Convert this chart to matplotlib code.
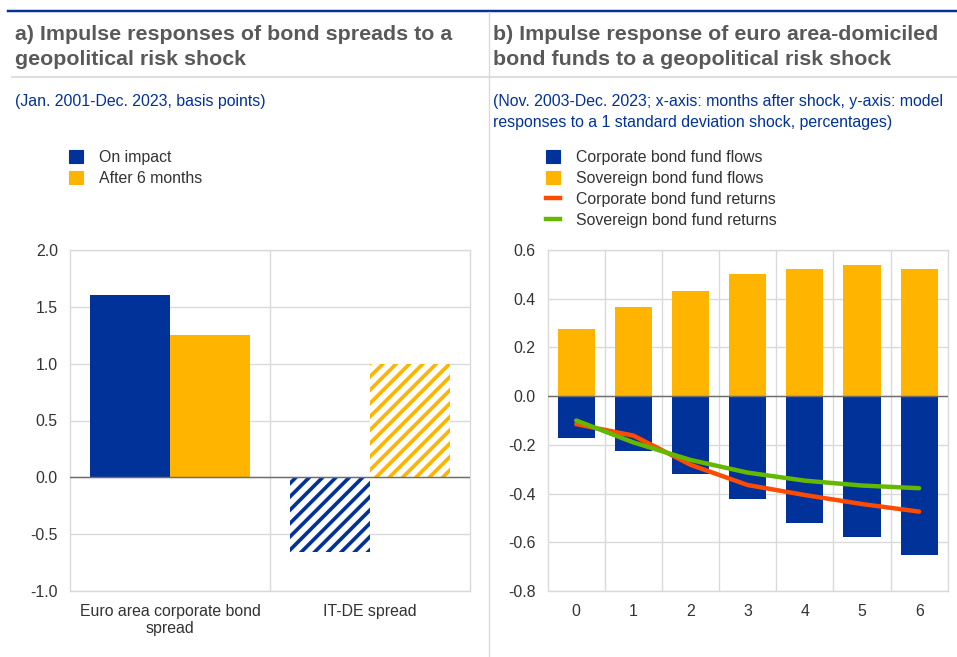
import matplotlib
matplotlib.use("Agg")
import matplotlib.pyplot as plt
from matplotlib.lines import Line2D
from matplotlib.patches import Patch
import numpy as np

# ---- data ----
spread_categories = ["Euro area corporate bond\nspread", "IT-DE spread"]
on_impact = [1.60, -0.66]
after_6_months = [1.25, 1.00]
spread_hatched = [False, True]
spread_yticks = [-1.0, -0.5, 0.0, 0.5, 1.0, 1.5, 2.0]

months = [0, 1, 2, 3, 4, 5, 6]
corp_flows = [-0.173, -0.224, -0.319, -0.423, -0.519, -0.577, -0.651]
sov_flows = [0.275, 0.367, 0.430, 0.500, 0.521, 0.537, 0.521]
corp_returns = [-0.115, -0.162, -0.282, -0.365, -0.406, -0.443, -0.474]
sov_returns = [-0.100, -0.190, -0.262, -0.314, -0.347, -0.367, -0.378]
fund_yticks = [-0.8, -0.6, -0.4, -0.2, 0.0, 0.2, 0.4, 0.6]

# ---- style ----
BLUE = "#003299"
ORANGE = "#FFB400"
RED = "#FF4B00"
GREEN = "#65B800"
GRID = "#d9d9d9"
TEXT = "#333333"
TITLE = "#595959"
FS = 14.3

W, H, DPI = 957, 657, 80
plt.rcParams["font.family"] = ["Liberation Sans", "DejaVu Sans"]
plt.rcParams["hatch.linewidth"] = 3.3

fig = plt.figure(figsize=(W / DPI, H / DPI), dpi=DPI)
fig.patch.set_facecolor("white")


def fx(px):
    return px / W


def fy(py):
    return 1 - py / H


def style_axes(ax, yticks, vlines):
    ax.set_ylim(yticks[0], yticks[-1])
    ax.set_yticks(yticks)
    ax.set_yticklabels([f"{t:.1f}" for t in yticks])
    for s in ax.spines.values():
        s.set_color(GRID)
        s.set_linewidth(1.2)
    ax.tick_params(length=0, labelsize=FS, colors=TEXT)
    ax.tick_params(axis="y", pad=11)
    ax.tick_params(axis="x", pad=11.5)
    for t in yticks:
        ax.axhline(t, color=GRID, lw=1.2, zorder=0)
    for v in vlines:
        ax.axvline(v, color=GRID, lw=1.2, zorder=0)
    ax.axhline(0, color="#6e6e6e", lw=1.3, zorder=4)


# ---- panel a ----
axa = fig.add_axes([fx(70), fy(591), fx(400), 341 / H])
xa = np.arange(len(spread_categories))
bw = 0.4
for i in range(len(xa)):
    if spread_hatched[i]:
        axa.bar(xa[i] - bw / 2, on_impact[i], bw, facecolor="white",
                edgecolor=BLUE, hatch="//", lw=0, zorder=2)
        axa.bar(xa[i] + bw / 2, after_6_months[i], bw, facecolor="white",
                edgecolor=ORANGE, hatch="//", lw=0, zorder=2)
    else:
        axa.bar(xa[i] - bw / 2, on_impact[i], bw, color=BLUE, zorder=2)
        axa.bar(xa[i] + bw / 2, after_6_months[i], bw, color=ORANGE, zorder=2)
axa.set_xlim(-0.5, len(xa) - 0.5)
axa.set_xticks(xa)
axa.set_xticklabels(spread_categories, linespacing=1.22)
style_axes(axa, spread_yticks, [0.5])

# ---- panel b ----
axb = fig.add_axes([fx(547.7), fy(591), fx(400), 341 / H])
xb = np.array(months)
bwb = 0.65
axb.bar(xb, sov_flows, bwb, color=ORANGE, zorder=2)
axb.bar(xb, corp_flows, bwb, color=BLUE, zorder=2)
axb.plot(xb, corp_returns, color=RED, lw=4, solid_capstyle="round",
         solid_joinstyle="round", zorder=5)
axb.plot(xb, sov_returns, color=GREEN, lw=4, solid_capstyle="round",
         solid_joinstyle="round", zorder=6)
axb.set_xlim(-0.5, len(xb) - 0.5)
axb.set_xticks(xb)
axb.set_xticklabels([str(m) for m in months])
style_axes(axb, fund_yticks, xb[:-1] + 0.5)

# ---- header rules and separators ----
fig.add_artist(Line2D([fx(8), 1], [fy(11), fy(11)], color=BLUE, lw=2.2))
fig.add_artist(Line2D([fx(12), fx(489)], [fy(77), fy(77)], color=GRID, lw=1.6))
fig.add_artist(Line2D([fx(490), 1], [fy(77), fy(77)], color=GRID, lw=1.6))
fig.add_artist(Line2D([fx(489), fx(489)], [fy(12), 0], color=GRID, lw=1.2))

# ---- titles ----
title_kw = dict(fontsize=19.2, fontweight="bold", color=TITLE, va="top",
                ha="left", linespacing=1.4)
fig.text(fx(15), fy(25), "a) Impulse responses of bond spreads to a\ngeopolitical risk shock",
         **title_kw)
fig.text(fx(493), fy(25), "b) Impulse response of euro area-domiciled\nbond funds to a geopolitical risk shock",
         **title_kw)
sub_kw = dict(fontsize=14.3, color=BLUE, va="top", ha="left", linespacing=1.48)
fig.text(fx(15), fy(94), "(Jan. 2001-Dec. 2023, basis points)", **sub_kw)
fig.text(fx(493), fy(94),
         "(Nov. 2003-Dec. 2023; x-axis: months after shock, y-axis: model\nresponses to a 1 standard deviation shock, percentages)",
         **sub_kw)

# ---- legends ----
leg_kw = dict(loc="upper left", frameon=False, fontsize=FS, borderpad=0,
              borderaxespad=0, handlelength=0.85, handleheight=0.85,
              handletextpad=1.05, labelspacing=0.37, labelcolor=TEXT)
fig.legend(handles=[Patch(color=BLUE, label="On impact"),
                    Patch(color=ORANGE, label="After 6 months")],
           bbox_to_anchor=(fx(69), fy(150)), **leg_kw)
fig.legend(handles=[Patch(color=BLUE, label="Corporate bond fund flows"),
                    Patch(color=ORANGE, label="Sovereign bond fund flows"),
                    Line2D([], [], color=RED, lw=4, label="Corporate bond fund returns"),
                    Line2D([], [], color=GREEN, lw=4, label="Sovereign bond fund returns")],
           bbox_to_anchor=(fx(546), fy(150)), **leg_kw)

fig.savefig("out.png", dpi=DPI, facecolor="white")
